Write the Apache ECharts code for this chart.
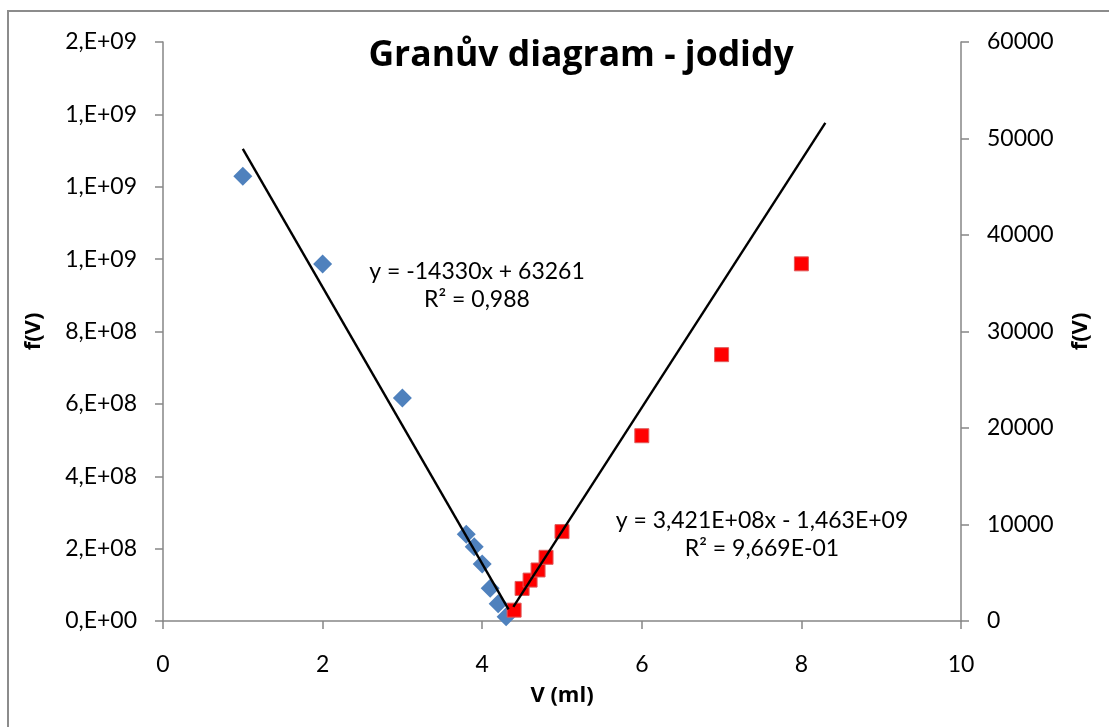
<!DOCTYPE html>
<html>
<head>
<meta charset="utf-8">
<script src="https://cdn.jsdelivr.net/npm/echarts@6/dist/echarts.min.js"></script>
<style>
  html, body { margin: 0; padding: 0; background: #fff; }
  #main { width: 1109px; height: 727px; }
</style>
</head>
<body>
<div id="main"></div>
<script>
// jodidy - blue series on right axis
var blueV = [1, 2, 3, 3.8, 3.9, 4.0, 4.1, 4.2, 4.3];
var blueF = [46100, 37000, 23100, 9000, 7700, 5900, 3400, 1800, 450];
// red series on left axis
var redV = [4.4, 4.5, 4.6, 4.7, 4.8, 5, 6, 7, 8];
var redF = [3.0e7, 9.0e7, 1.13e8, 1.41e8, 1.76e8, 2.47e8, 5.12e8, 7.36e8, 9.87e8];
// trendline ends (from the equations shown)
var blueTrendV = [1, 4.33];
var blueTrendF = [48931, 1212];
var redTrendV = [4.39, 8.3];
var redTrendF = [3.88e7, 1.3764e9];
var leftTickLabels = ['0,E+00', '2,E+08', '4,E+08', '6,E+08', '8,E+08', '1,E+09', '1,E+09', '1,E+09', '2,E+09'];

function pairs(xs, ys) {
  return xs.map(function (x, i) { return [x, ys[i]]; });
}

var font = 'Lato';
var boldFont = 'Open Sans';
var axisColor = '#868686';
var chart = echarts.init(document.getElementById('main'));

chart.setOption({
  animation: false,
  grid: { left: 163, right: 148, top: 42, bottom: 106 },
  xAxis: {
    type: 'value', min: 0, max: 10, interval: 2,
    name: 'V (ml)', nameLocation: 'middle', nameGap: 64,
    nameTextStyle: { fontFamily: boldFont, fontWeight: 'bold', fontSize: 22, color: '#000' },
    axisLine: { onZero: false, lineStyle: { color: axisColor, width: 1.5 } },
    axisTick: { inside: false, length: 8, lineStyle: { color: axisColor, width: 1.5 } },
    axisLabel: { margin: 32, fontFamily: font, fontSize: 23, color: '#000' },
    splitLine: { show: false }
  },
  yAxis: [{
    type: 'value', position: 'left', min: 0, max: 1.6e9, interval: 2e8,
    name: 'f(V)', nameLocation: 'middle', nameGap: 118, nameRotate: 90,
    nameTextStyle: { fontFamily: boldFont, fontWeight: 'bold', fontSize: 22, color: '#000' },
    axisLine: { show: true, lineStyle: { color: axisColor, width: 1.5 } },
    axisTick: { show: true, inside: false, length: 8, lineStyle: { color: axisColor, width: 1.5 } },
    axisLabel: {
      margin: 26, fontFamily: font, fontSize: 23, color: '#000',
      formatter: function (v) { return leftTickLabels[Math.round(v / 2e8)]; }
    },
    splitLine: { show: false }
  }, {
    type: 'value', position: 'right', min: 0, max: 60000, interval: 10000,
    name: 'f(V)', nameLocation: 'middle', nameGap: 109, nameRotate: 90,
    nameTextStyle: { fontFamily: boldFont, fontWeight: 'bold', fontSize: 22, color: '#000' },
    axisLine: { show: true, lineStyle: { color: axisColor, width: 1.5 } },
    axisTick: { show: true, inside: false, length: 8, lineStyle: { color: axisColor, width: 1.5 } },
    axisLabel: {
      margin: 26, fontFamily: font, fontSize: 23, color: '#000',
      formatter: function (v) { return String(v); }
    },
    splitLine: { show: false }
  }],
  series: [{
    type: 'scatter', yAxisIndex: 1, symbol: 'diamond', symbolSize: 19,
    itemStyle: { color: '#4F81BD', opacity: 1 },
    data: pairs(blueV, blueF), z: 2
  }, {
    type: 'scatter', yAxisIndex: 0, symbol: 'rect', symbolSize: 14,
    itemStyle: { color: '#FF0000', borderColor: '#e05a5a', borderWidth: 1, opacity: 1 },
    data: pairs(redV, redF), z: 2
  }, {
    type: 'line', yAxisIndex: 1, symbol: 'none',
    lineStyle: { color: '#000', width: 2.4 },
    data: pairs(blueTrendV, blueTrendF), z: 5
  }, {
    type: 'line', yAxisIndex: 0, symbol: 'none',
    lineStyle: { color: '#000', width: 2.4 },
    data: pairs(redTrendV, redTrendF), z: 5
  }],
  graphic: [{
    type: 'rect', shape: { x: 8, y: 11, width: 1200, height: 800 },
    style: { fill: 'none', stroke: '#8c8c8c', lineWidth: 2 }, silent: true
  }, {
    type: 'text', x: 581, y: 56,
    style: { text: 'Granův diagram - jodidy', font: 'bold 35.5px "Open Sans"', fill: '#000', textAlign: 'center', textVerticalAlign: 'middle' }
  }, {
    type: 'text', x: 477, y: 272,
    style: { text: 'y = -14330x + 63261', font: '23px Lato', fill: '#000', textAlign: 'center', textVerticalAlign: 'middle' }
  }, {
    type: 'text', x: 477, y: 300,
    style: { text: 'R² = 0,988', font: '23px Lato', fill: '#000', textAlign: 'center', textVerticalAlign: 'middle' }
  }, {
    type: 'text', x: 762, y: 521,
    style: { text: 'y = 3,421E+08x - 1,463E+09', font: '23px Lato', fill: '#000', textAlign: 'center', textVerticalAlign: 'middle' }
  }, {
    type: 'text', x: 762, y: 549,
    style: { text: 'R² = 9,669E-01', font: '23px Lato', fill: '#000', textAlign: 'center', textVerticalAlign: 'middle' }
  }]
});
</script>
</body>
</html>
